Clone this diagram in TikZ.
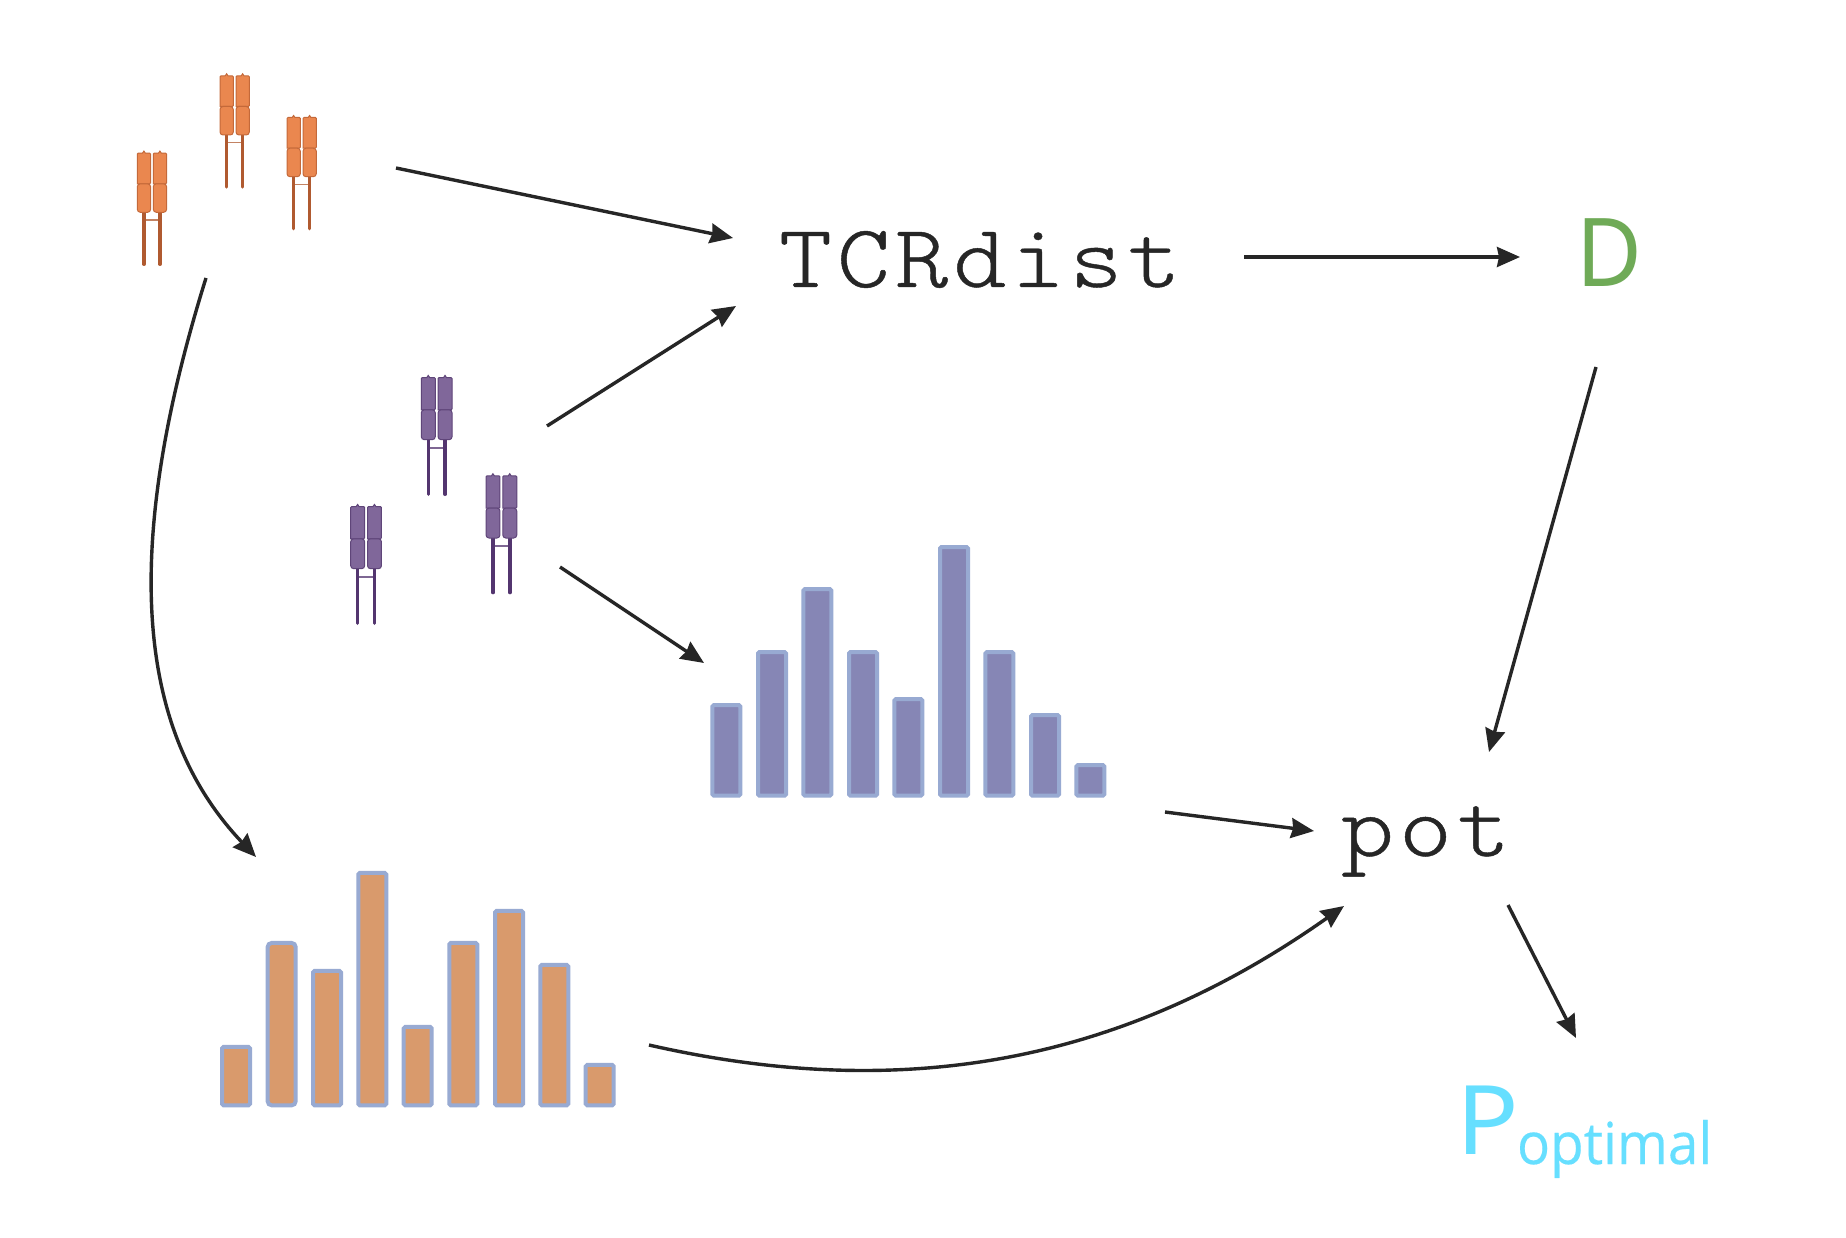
\documentclass[tikz,border=0pt]{standalone}
\usepackage{fontspec}
\usetikzlibrary{arrows.meta}
\setmainfont{Noto Sans}
\newfontfamily\subfam[FakeStretch=0.945,FakeBold=0.3]{Open Sans}
\newfontfamily\dfam[FakeStretch=0.95]{Noto Sans}
\newfontfamily\pfam[FakeStretch=1.08]{Noto Sans}
\newfontfamily\codefam[FakeStretch=1.12,LetterSpace=5.8,FakeBold=0.5]{Latin Modern Mono Light}
\definecolor{inkc}{HTML}{262626}
\definecolor{barline}{HTML}{98AAD2}
\definecolor{obarfill}{HTML}{D99A6C}
\definecolor{pbarfill}{HTML}{8686B5}
\definecolor{oab}{HTML}{EA874F}
\definecolor{oabl}{HTML}{C4693A}
\definecolor{oabs}{HTML}{B05A30}
\definecolor{pab}{HTML}{80679A}
\definecolor{pabl}{HTML}{5F4579}
\definecolor{pabs}{HTML}{53356F}
\definecolor{dgreen}{HTML}{6FAA57}
\definecolor{pcyan}{HTML}{66DFFF}
\tikzset{
  flow/.style={draw=inkc,line width=3.4pt,-{Stealth[length=23pt,width=20pt,inset=2pt]}},
  barbox/.style={draw=barline,line width=4pt,rounded corners=1.5pt,minimum width=28pt,
    inner sep=0pt,outer sep=0pt,anchor=south west},
  obar/.style={barbox,fill=obarfill},
  pbar/.style={barbox,fill=pbarfill},
  codetext/.style={text=inkc,inner sep=0pt,outer sep=0pt,anchor=base west,
    font=\fontsize{90}{100}\selectfont\codefam},
  chain/.style={line width=1pt},
}
\newcommand{\tcrchain}[3]{%
  \draw[chain,fill=#2,draw=#3,shift={(#1,0)}] (0,31.5) [rounded corners=1pt] -- (0,0.8) [sharp corners] -- (5.2,0.8) -- (6.6,-1.2) -- (8,0.8) [rounded corners=1pt] -- (13.3,0.8) -- (13.3,31.5) [sharp corners] -- cycle;
  \draw[chain,fill=#2,draw=#3,shift={(#1,0)},rounded corners=3pt] (0,31.5) -- (13.3,31.5) -- (13.3,60) -- (0,60) -- cycle;
}
\newcommand{\tcrab}[6]{%
  \begin{scope}[shift={(#1,#2)},scale=#3]
    \draw[#6,line width=1.5pt,opacity=.75] (6.67,67.7) -- (22.67,67.7);
    \draw[#6,line width=3.4pt,line cap=round] (6.67,60) -- (6.67,112);
    \draw[#6,line width=3.4pt,line cap=round] (22.67,60) -- (22.67,112);
    \tcrchain{0}{#4}{#5}
    \tcrchain{16}{#4}{#5}
  \end{scope}
}
\begin{document}
\begin{tikzpicture}[x=1pt,y=-1pt]
\useasboundingbox (0,0) rectangle (1846,1238);
\fill[white] (0,0) rectangle (1846,1238);

% T-cell receptors
\tcrab{220}{75}{1}{oab}{oabl}{oabs}
\tcrab{137.3}{152.3}{1}{oab}{oabl}{oabs}
\tcrab{287}{116.7}{1}{oab}{oabl}{oabs}
\tcrab{421.3}{376.7}{1.05}{pab}{pabl}{pabs}
\tcrab{486}{475}{1.05}{pab}{pabl}{pabs}
\tcrab{350.7}{505.7}{1.05}{pab}{pabl}{pabs}

% purple histogram
\foreach \n/\x/\t in {1/61/519,2/198/360,3/334/171,4/471/360,5/607/501,6/744/45,7/880/360,8/1017/549,9/1153/699}{
  \pgfmathsetmacro{\bx}{690+\x/3+2}
  \pgfmathsetmacro{\bh}{(803-\t)/3-4}
  \node[pbar,minimum height=\bh pt] (pb\n) at (\bx,795.7) {};
}
% orange histogram
\foreach \n/\x/\t in {1/60/585,3/333/357,4/469/63,5/605/525,6/742/273,7/879/177,8/1015/339,9/1151/639}{
  \pgfmathsetmacro{\bx}{200+\x/3+2}
  \pgfmathsetmacro{\bh}{(772-\t)/3-4}
  \node[obar,minimum height=\bh pt] (ob\n) at (\bx,1105.3) {};
}
\pgfmathsetmacro{\bx}{200+197/3+2}
\pgfmathsetmacro{\bh}{(772-273)/3-4}
\node[obar,rounded corners=4pt,minimum height=\bh pt] (ob2) at (\bx,1105.3) {};

% labels
\node[codetext] (tcr) at (779,287) {TCRdist};
\node[codetext] (pot) at (1341,856) {pot};
\node[inner sep=0pt,outer sep=0pt,anchor=base west,text=dgreen,font=\fontsize{95}{100}\selectfont\dfam] (dm) at (1576,287) {D};
\node[inner sep=0pt,outer sep=0pt,anchor=base west,text=pcyan,font=\fontsize{96}{100}\selectfont\pfam] (pl) at (1456,1154) {P};
\node[inner sep=0pt,outer sep=0pt,anchor=base west,text=pcyan,font=\fontsize{58}{60}\selectfont\subfam] (ps) at (1517,1164) {optimal};

% connector ends
\coordinate (oOutA) at (396,168);
\coordinate (oOutB) at (206,278);
\coordinate (pOutA) at (547,426);
\coordinate (pOutB) at (560,567);
\coordinate (tcrInA) at (733,238);
\coordinate (tcrInB) at (736,306);
\coordinate (tcrOut) at (1244,257);
\coordinate (dIn) at (1520,257);
\coordinate (dOut) at (1596,367);
\coordinate (potInD) at (1489,752);
\coordinate (pbIn) at (704,663);
\coordinate (pbOut) at (1165,812);
\coordinate (potInP) at (1314,831);
\coordinate (obIn) at (256,857);
\coordinate (obOut) at (649,1045);
\coordinate (potInO) at (1344,906);
\coordinate (potOut) at (1508,905);
\coordinate (pIn) at (1576,1038);

\draw[flow] (oOutA) -- (tcrInA);
\draw[flow] (pOutA) -- (tcrInB);
\draw[flow] (pOutB) -- (pbIn);
\draw[flow] (tcrOut) -- (dIn);
\draw[flow] (dOut) -- (potInD);
\draw[flow] (pbOut) -- (potInP);
\draw[flow] (potOut) -- (pIn);
\draw[flow] (oOutB) .. controls (118,560) and (140,735) .. (obIn);
\draw[flow] (obOut) .. controls (925,1108) and (1140,1050) .. (potInO);
\end{tikzpicture}
\end{document}
